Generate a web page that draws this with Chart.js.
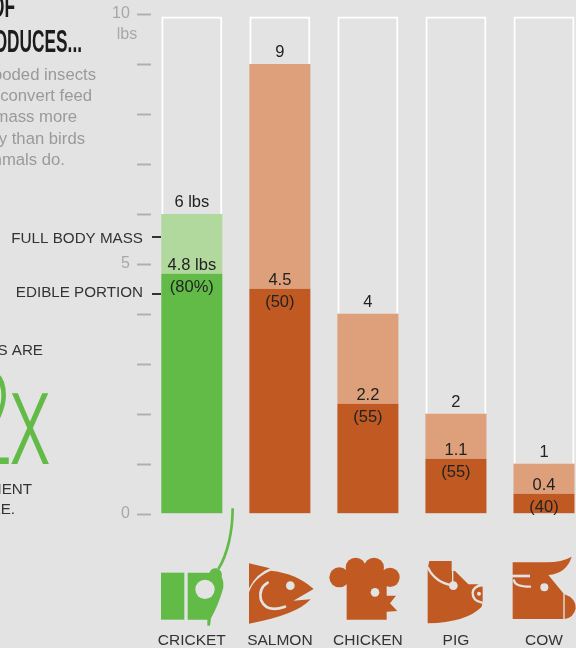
<!DOCTYPE html>
<html>
<head>
<meta charset="utf-8">
<script src="https://cdn.jsdelivr.net/npm/chart.js@4"></script>
<style>
  html, body { margin: 0; padding: 0; background: #e3e3e3; overflow: hidden; width: 576px; height: 648px; }
  canvas { display: block; }
</style>
</head>
<body>
<canvas id="feedChart" width="588" height="648" style="width:588px;height:648px"></canvas>
<script>
var animals = ['CRICKET', 'SALMON', 'CHICKEN', 'PIG', 'COW'];
var fullMass = [6, 9, 4, 2, 1];
var ediblePortion = [4.8, 4.5, 2.2, 1.1, 0.4];
var ediblePercent = [80, 50, 55, 55, 40];
var boxTop = 9.95;
var yLabels = { 0: '0', 5: '5', 10: '10' };

var darkColors = ['#62ba47', '#c15a22', '#c15a22', '#c15a22', '#c15a22'];
var lightColors = ['#b1d99e', '#dda07a', '#dda07a', '#dda07a', '#dda07a'];
var bg = '#e3e3e3';
var textDark = '#222';
var textGrey = '#9a9a9a';
var sans = '"Liberation Sans", Arial, sans-serif';

var restOfBody = fullMass.map(function (v, i) { return v - ediblePortion[i]; });
var emptyBox = fullMass.map(function (v) { return boxTop - v; });

function text(ctx, str, x, y, font, color, align) {
  ctx.font = font;
  ctx.fillStyle = color;
  ctx.textAlign = align || 'left';
  ctx.textBaseline = 'alphabetic';
  ctx.fillText(str, x, y);
}

// squeezed text, no real condensed face for the headline
function squeezed(ctx, str, right, y, font, color, sx) {
  ctx.save();
  ctx.translate(right, y);
  ctx.scale(sx, 1);
  text(ctx, str, 0, 0, font, color, 'right');
  ctx.restore();
}

function dot(ctx, x, y, r, color) {
  ctx.fillStyle = color;
  ctx.beginPath();
  ctx.arc(x, y, r, 0, Math.PI * 2);
  ctx.fill();
}

function poly(ctx, d, color) {
  ctx.fillStyle = color;
  ctx.fill(new Path2D(d));
}

function arcLine(ctx, d, width) {
  ctx.strokeStyle = bg;
  ctx.lineWidth = width;
  ctx.lineCap = 'round';
  ctx.stroke(new Path2D(d));
}

// icons are traced in 3x coordinates, hence the scale
function drawIcons(ctx) {
  var orange = darkColors[1], green = darkColors[0];

  ctx.save();
  ctx.translate(150, 505);
  ctx.scale(1 / 3, 1 / 3);

  // cricket
  ctx.fillStyle = green;
  ctx.fillRect(33, 203, 70, 141);
  poly(ctx, 'M113 203 L178 203 Q185 188 200 190 Q218 195 215 215 Q224 235 218 255 Q205 300 183 340 L180 362 L172 362 L172 344 L113 344 Z', green);
  dot(ctx, 165, 253, 29, bg);
  ctx.strokeStyle = green;
  ctx.lineWidth = 8;
  ctx.lineCap = 'butt';
  ctx.beginPath();
  ctx.moveTo(248, 10);
  ctx.bezierCurveTo(248, 80, 232, 150, 205, 192);
  ctx.stroke();

  // salmon
  poly(ctx, 'M297 175 L360 190 Q320 205 297 250 Z', orange);
  poly(ctx, 'M362 197 Q440 205 491 252 L430 287 L482 283 Q440 330 297 356 L297 262 Q310 220 362 197 Z', orange);
  dot(ctx, 421, 242, 13, bg);
  arcLine(ctx, 'M353 233 Q325 250 333 285 Q350 325 405 305', 8);

  // chicken
  dot(ctx, 568, 217, 30, orange);
  dot(ctx, 617, 188, 30, orange);
  dot(ctx, 672, 188, 30, orange);
  dot(ctx, 720, 217, 29, orange);
  poly(ctx, 'M590 195 L710 195 L710 272 L738 272 L720 295 L742 318 L710 320 L710 344 L590 344 Z', orange);
  dot(ctx, 675, 262, 13, bg);
  ctx.restore();

  ctx.save();
  ctx.translate(400, 505);
  ctx.scale(1 / 3, 1 / 3);

  // pig
  poly(ctx, 'M88 168 L155 168 L155 198 L165 198 L205 238 L232 238 L248 245 L248 290 L245 305 Q200 352 83 355 L83 190 Z', orange);
  arcLine(ctx, 'M84 188 Q105 232 160 242', 7);
  dot(ctx, 160, 242, 13, bg);
  ctx.fillStyle = bg;
  ctx.fillRect(156, 198, 4, 36);
  arcLine(ctx, 'M246 240 Q218 245 218 265 Q218 288 246 293', 7);
  dot(ctx, 237, 266, 6, bg);

  // cow
  poly(ctx, 'M338 172 L440 172 Q485 172 515 155 Q500 205 445 210 L490 265 L490 342 L338 342 Z', orange);
  ctx.fillStyle = bg;
  ctx.fillRect(330, 209, 60, 8);
  arcLine(ctx, 'M342 226 Q345 245 390 245', 7);
  dot(ctx, 433, 247, 12, bg);
  poly(ctx, 'M494 268 Q528 280 527 310 Q522 338 494 342 Z', orange);
  ctx.restore();
}

var annotations = {
  id: 'annotations',
  afterDraw: function (chart) {
    var ctx = chart.ctx;
    var y = chart.scales.y;
    var x = chart.scales.x;
    ctx.save();

    // y axis ticks stop short of the chart area, so they are done here
    ctx.strokeStyle = '#b0b0b0';
    ctx.lineWidth = 2;
    y.ticks.forEach(function (t) {
      var py = Math.round(y.getPixelForValue(t.value)) + 0.5;
      ctx.beginPath();
      ctx.moveTo(137, py);
      ctx.lineTo(151, py);
      ctx.stroke();
    });
    text(ctx, 'lbs', 127, 39, '16px ' + sans, '#a8a8a8', 'center');

    // value labels above and across the bars
    animals.forEach(function (name, i) {
      var cx = x.getPixelForValue(i);
      var topY = y.getPixelForValue(fullMass[i]);
      var edibleY = y.getPixelForValue(ediblePortion[i]);
      var unit = i === 0 ? ' lbs' : '';
      var pct = i === 0 ? ediblePercent[i] + '%' : ediblePercent[i];
      text(ctx, fullMass[i] + unit, cx, topY - 7, '16.5px ' + sans, textDark, 'center');
      text(ctx, ediblePortion[i] + unit, cx, edibleY - 4, '16.5px ' + sans, textDark, 'center');
      text(ctx, '(' + pct + ')', cx, edibleY + 18, '16.5px ' + sans, textDark, 'center');
    });

    // callouts
    text(ctx, 'FULL BODY MASS', 143, 243, '15.2px ' + sans, '#333', 'right');
    text(ctx, 'EDIBLE PORTION', 143, 297, '15.2px ' + sans, '#333', 'right');
    ctx.fillStyle = '#333';
    ctx.fillRect(152, 236, 9, 2);
    ctx.fillRect(152, 293, 9, 2);

    // left column, runs off the page edge like the original
    squeezed(ctx, 'OF', 15, 17, 'bold 32px ' + sans, '#1c1c1c', 0.54);
    squeezed(ctx, 'PRODUCES...', 82, 52, 'bold 32px ' + sans, '#1c1c1c', 0.54);
    text(ctx, 'blooded insects', 96, 80, '16.7px ' + sans, textGrey, 'right');
    text(ctx, 'convert feed', 92, 101, '16.7px ' + sans, textGrey, 'right');
    text(ctx, 'mass more', 77, 122, '16.7px ' + sans, textGrey, 'right');
    text(ctx, 'efficiently than birds', 85, 144, '16.7px ' + sans, textGrey, 'right');
    text(ctx, 'mammals do.', 65, 165, '16.7px ' + sans, textGrey, 'right');

    text(ctx, 'CRICKETS ARE', 43, 355, '15.2px ' + sans, '#333', 'right');
    squeezed(ctx, 'x', 51, 464, '300 134px Roboto, ' + sans, darkColors[0], 0.64);
    squeezed(ctx, '2', 12, 464, '300 130px Roboto, ' + sans, darkColors[0], 0.6);
    text(ctx, 'EFFICIENT', 32, 494, '15.2px ' + sans, '#333', 'right');
    text(ctx, 'CATTLE.', 15, 514, '15.2px ' + sans, '#333', 'right');

    drawIcons(ctx);
    ctx.restore();
  }
};

var chart = new Chart(document.getElementById('feedChart').getContext('2d'), {
  type: 'bar',
  data: {
    labels: animals,
    datasets: [
      { label: 'Edible portion', data: ediblePortion, backgroundColor: darkColors },
      { label: 'Full body mass', data: restOfBody, backgroundColor: lightColors },
      { label: 'Scale box', data: emptyBox, backgroundColor: 'rgba(0,0,0,0)', borderColor: '#fff', borderWidth: 2, borderSkipped: 'bottom' }
    ]
  },
  options: {
    responsive: false,
    animation: false,
    events: [],
    categoryPercentage: 1,
    barPercentage: 61 / 88,
    layout: { padding: { top: 14, right: 0, bottom: 0, left: 0 } },
    plugins: { legend: { display: false }, tooltip: { enabled: false } },
    scales: {
      x: {
        stacked: true,
        // tick padding would eat into the plot width, so a long invisible tick moves the labels down
        grid: { drawOnChartArea: false, drawTicks: true, tickLength: 118, tickColor: 'rgba(0,0,0,0)' },
        border: { display: false },
        afterFit: function (s) { s.height = 134.3; },
        ticks: { padding: 0, color: '#333', font: { family: 'Liberation Sans', size: 15.5 }, maxRotation: 0, autoSkip: false }
      },
      y: {
        stacked: true,
        min: 0,
        max: 10,
        grid: { drawOnChartArea: false, drawTicks: true, tickLength: 18, tickColor: 'rgba(0,0,0,0)' },
        border: { display: false },
        afterFit: function (s) { s.width = 147.8; },
        ticks: {
          stepSize: 1,
          autoSkip: false,
          padding: 0,
          color: '#a8a8a8',
          font: { family: 'Liberation Sans', size: 16 },
          callback: function (v) { return yLabels[v] || ''; }
        }
      }
    }
  },
  plugins: [annotations]
});
</script>
</body>
</html>
